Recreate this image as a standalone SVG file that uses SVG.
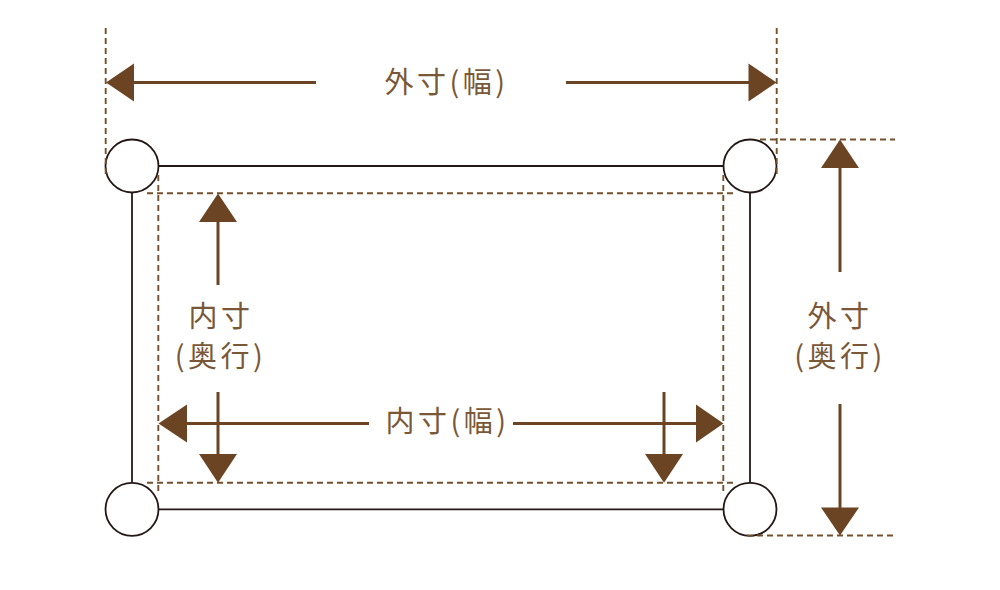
<svg xmlns="http://www.w3.org/2000/svg" width="1000" height="590" viewBox="0 0 1000 590">
<style>
.solid{stroke:#231815;stroke-width:1.8;fill:none}
.post{stroke:#231815;stroke-width:1.8;fill:#fff}
.dash{stroke:#76502c;stroke-width:1.9;stroke-dasharray:6 4;fill:none}
.shaft{stroke:#6b4423;stroke-width:3;fill:none}
.head{fill:#6b4423}
.lbl{font-family:"Noto Sans CJK JP","Noto Sans",sans-serif;font-size:29px;fill:#7a5837;text-anchor:middle;letter-spacing:3.5px}
</style>
<rect width="1000" height="590" fill="#fff"/>
<g id="frame">
<line class="solid" x1="132" y1="166" x2="750" y2="166"/>
<line class="solid" x1="132" y1="509.3" x2="750" y2="509.3"/>
<line class="solid" x1="132" y1="166" x2="132" y2="509.3"/>
<line class="solid" x1="750" y1="166" x2="750" y2="509.3"/>
</g>
<g id="posts">
<circle id="post-tl" class="post" cx="132" cy="166" r="26.5"/>
<circle id="post-tr" class="post" cx="750" cy="166" r="26.5"/>
<circle id="post-bl" class="post" cx="132" cy="509.3" r="26.5"/>
<circle id="post-br" class="post" cx="750" cy="509.3" r="26.5"/>
</g>
<g id="guides">
<line class="dash" x1="105.7" y1="28" x2="105.7" y2="176"/>
<line class="dash" x1="776.7" y1="28" x2="776.7" y2="178"/>
<line class="dash" x1="760" y1="139.5" x2="895" y2="139.5"/>
<line class="dash" x1="747" y1="535.5" x2="895" y2="535.5"/>
<line class="dash" x1="147" y1="193.3" x2="737" y2="193.3"/>
<line class="dash" x1="147" y1="482.7" x2="737" y2="482.7"/>
<line class="dash" x1="158.3" y1="175" x2="158.3" y2="495"/>
<line class="dash" x1="723.3" y1="175" x2="723.3" y2="495"/>
</g>
<g id="connectors">
<line class="shaft" x1="133" y1="82.5" x2="316" y2="82.5"/>
<polygon class="head" points="106,82.5 134,63.5 134,101.5"/>
<line class="shaft" x1="566" y1="82.5" x2="749" y2="82.5"/>
<polygon class="head" points="776.5,82.5 748.5,63.5 748.5,101.5"/>
<line class="shaft" x1="840" y1="167" x2="840" y2="272"/>
<polygon class="head" points="840,139.5 821,168 859,168"/>
<line class="shaft" x1="840" y1="404" x2="840" y2="509"/>
<polygon class="head" points="840,535.5 821,507.5 859,507.5"/>
<line class="shaft" x1="218" y1="221" x2="218" y2="285"/>
<polygon class="head" points="218,193.5 199,222 237,222"/>
<line class="shaft" x1="218" y1="392" x2="218" y2="455"/>
<polygon class="head" points="218,482.7 199,454 237,454"/>
<line class="shaft" x1="664" y1="392" x2="664" y2="455"/>
<polygon class="head" points="664,482.7 645,454 683,454"/>
<line class="shaft" x1="186" y1="423.5" x2="369" y2="423.5"/>
<polygon class="head" points="158.5,423.5 187,404.5 187,442.5"/>
<line class="shaft" x1="513" y1="423.5" x2="697" y2="423.5"/>
<polygon class="head" points="723.5,423.5 696,404.5 696,442.5"/>
</g>
<g id="labels">
<text class="lbl" x="446.5" y="93">外寸(幅)</text>
<text class="lbl" x="221" y="327">内寸</text>
<text class="lbl" x="220.5" y="367">(奥行)</text>
<text class="lbl" x="840" y="327">外寸</text>
<text class="lbl" x="840" y="367">(奥行)</text>
<text class="lbl" x="447.5" y="432">内寸(幅)</text>
</g>
</svg>
